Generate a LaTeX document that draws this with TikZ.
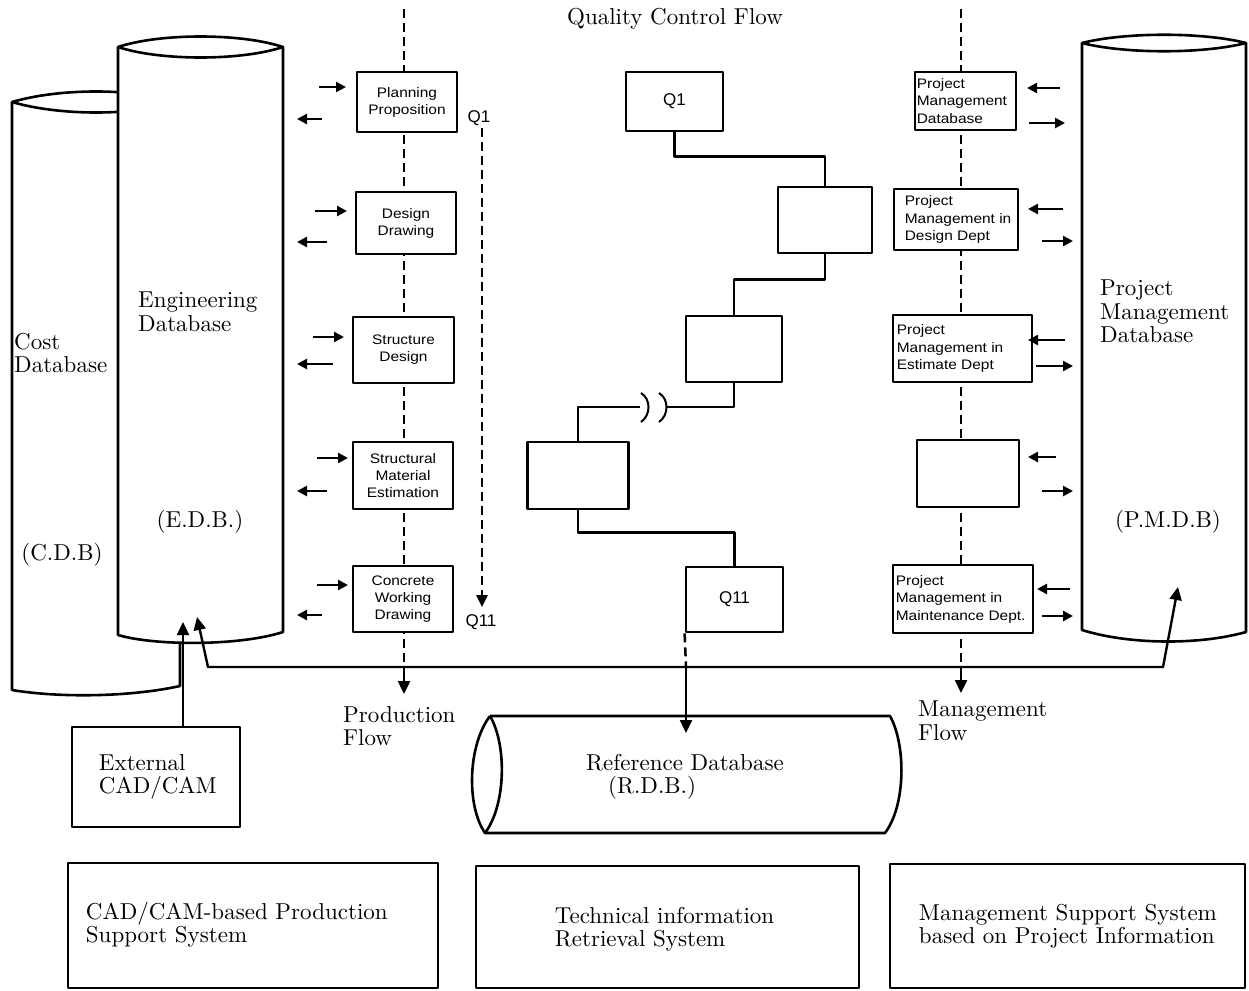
\documentclass[tikz,border=0pt]{standalone}
\usepackage{fontspec}
\setmainfont{lmroman10-regular}[Extension=.otf]
\newfontfamily\boxfont{Liberation Sans}[FakeStretch=1.12]
\newfontfamily\qfont{Liberation Sans}
\usetikzlibrary{arrows.meta}

\begin{document}
\begin{tikzpicture}[x=1pt,y=-1pt,line join=round,
  dbline/.style={line width=2.6pt},
  stepbox/.style={draw,line width=2.8pt,fill=white,inner sep=0pt,align=center,
    font={\boxfont\fontsize{13.8}{17}\selectfont}},
  blank/.style={draw,line width=2.8pt,fill=white,inner sep=0pt},
  qbox/.style={draw,line width=2.8pt,fill=white,inner sep=0pt,
    font={\qfont\fontsize{17}{20}\selectfont}},
  boxtext/.style={inner sep=0pt,align=left,anchor=west,
    font={\boxfont\fontsize{13.8}{17.5}\selectfont}},
  qlabel/.style={inner sep=0pt,font={\qfont\fontsize{17}{20}\selectfont}},
  serif/.style={inner sep=0pt,align=left,font={\fontsize{23}{23.5}\selectfont}},
  sysbox/.style={draw,line width=2.5pt,inner sep=0pt},
  conn/.style={line width=2.4pt},
  flow/.style={line width=2.5pt,dash pattern=on 9pt off 5pt},
  bigtip/.style={-{Triangle[length=13pt,width=12pt]}},
  small/.style={line width=2.6pt,-{Triangle[length=10pt,width=10pt]}}
]
\useasboundingbox (0,0) rectangle (1249,990);

% ---------- database cylinders ----------
% Cost database (behind)
\path[draw,dbline,fill=white] (12,102) .. controls (60,88) and (132,88) .. (180,102)
  -- (180,686) .. controls (130,697) and (60,698) .. (12,690) -- cycle;
\draw[dbline] (12,102) .. controls (60,116) and (132,116) .. (180,102);
% Engineering database
\path[draw,dbline,fill=white] (118,47) .. controls (160,33) and (241,33) .. (283,47)
  -- (283,632) .. controls (240,646) and (155,646) .. (118,635) -- cycle;
\draw[dbline] (118,47) .. controls (160,61) and (241,61) .. (283,47);
% Project management database
\path[draw,dbline,fill=white] (1082,43) .. controls (1125,32) and (1203,32) .. (1246,43)
  -- (1246,632) .. controls (1200,645) and (1130,645) .. (1082,630) -- cycle;
\draw[dbline] (1082,43) .. controls (1125,54) and (1203,54) .. (1246,43);
% Reference database (lying)
\draw[dbline] (490,716) -- (890,716) .. controls (906,745) and (906,805) .. (885,833)
  -- (485,833) .. controls (466,805) and (468,745) .. (490,716);
\draw[dbline] (490,716) .. controls (507,745) and (506,805) .. (485,833);

% ---------- database labels ----------
\node[serif,anchor=north west] (costlbl) at (14,333) {Cost\\Database};
\node[serif] (cdb) at (62,555) {(C.D.B)};
\node[serif,anchor=north west] (edblbl) at (138,292) {Engineering\\Database};
\node[serif] (edb) at (200,522) {(E.D.B.)};
\node[serif,anchor=north west] (pmdblbl) at (1100,280) {Project\\Management\\Database};
\node[serif] (pmdb) at (1168,522) {(P.M.D.B)};
\node[serif,anchor=north west] (rdblbl) at (586,754) {Reference Database\\\hspace*{22pt}(R.D.B.)};

% ---------- flow lines ----------
\node[serif] (qcf) at (675,19) {Quality Control Flow};
\coordinate (ptop) at (404,9);
\coordinate (pbus) at (404,667);
\coordinate (pend) at (404,694);
\coordinate (mtop) at (961,9);
\coordinate (mbus) at (961,667);
\coordinate (mend) at (961,693);
\draw[flow] (ptop) -- (pbus);
\draw[conn,bigtip] (pbus) -- (pend);
\draw[flow] (mtop) -- (mbus);
\draw[conn,bigtip] (mbus) -- (mend);
\node[serif,anchor=north west] (pflow) at (343,706) {Production\\Flow};
\node[serif,anchor=north west] (mflow) at (918,701) {Management\\Flow};

% ---------- production column ----------
\node[stepbox,minimum width=100pt,minimum height=60pt] (P1) at (407,102) {Planning\\Proposition};
\node[stepbox,minimum width=100pt,minimum height=62pt] (P2) at (406,223) {Design\\Drawing};
\node[stepbox,minimum width=101pt,minimum height=66pt] (P3) at (403.5,350) {Structure\\Design};
\node[stepbox,minimum width=100pt,minimum height=67pt] (P4) at (403,475.5) {Structural\\Material\\Estimation};
\node[stepbox,minimum width=100pt,minimum height=66pt] (P5) at (403,599) {Concrete\\Working\\Drawing};

\draw[small] (319,87) -- (346,87);   \draw[small] (322,119) -- (297,119);
\draw[small] (315,211) -- (347,211); \draw[small] (327,242) -- (297,242);
\draw[small] (313,337) -- (344,337); \draw[small] (333,364) -- (297,364);
\draw[small] (317,458) -- (348,458); \draw[small] (327,491) -- (297,491);
\draw[small] (317,585) -- (348,585); \draw[small] (322,615) -- (297,615);

% quality control span
\coordinate (qstart) at (482,128);
\coordinate (qend) at (482,607);
\draw[flow,-{Triangle[length=12pt,width=11pt]}] (qstart) -- (qend);
\node[qlabel] (q1lbl) at (479,118) {Q1};
\node[qlabel] (q11lbl) at (481,622) {Q11};

% ---------- quality control chain ----------
\node[qbox,minimum width=97pt,minimum height=59pt] (Q1) at (674.5,101.5) {Q1};
\node[blank,minimum width=94pt,minimum height=66pt] (B2) at (825,220) {};
\node[blank,minimum width=96pt,minimum height=66pt] (B3) at (734,349) {};
\node[blank,minimum width=101pt,minimum height=67pt] (B4) at (578,475.5) {};
\node[qbox,minimum width=97pt,minimum height=65pt] (Q11) at (734.5,599.5) {Q11};

\draw[conn] (Q1.south) -- ++(0,24) -| (B2.north);
\draw[conn] (B2.south) -- ++(0,25) -| (B3.north);
\coordinate (brkR) at (667,407);
\coordinate (brkL) at (640,407);
\draw[conn] (B3.south) |- (brkR);
\draw[conn] (brkL) -| (B4.north);
\draw[line width=2pt] (641,393) .. controls (651,399) and (651,415) .. (641,422);
\draw[line width=2pt] (659,393) .. controls (669,399) and (669,415) .. (659,422);
\draw[conn] (B4.south) -- ++(0,22) -| (Q11.north);

\coordinate (rbus) at (686,667);
\coordinate (rtip) at (686,733);
\draw[flow] (Q11.south west) -- (rbus);
\draw[conn,bigtip] (rbus) -- (rtip);

% ---------- management column ----------
\node[blank,minimum width=101pt,minimum height=58pt] (M1) at (965.5,101) {};
\node[boxtext] (M1t) at ([xshift=3pt]M1.west) {Project\\Management\\Database};
\node[blank,minimum width=124pt,minimum height=61pt] (M2) at (956,219.5) {};
\node[boxtext] (M2t) at ([xshift=12pt]M2.west) {Project\\Management in\\Design Dept};
\node[blank,minimum width=139pt,minimum height=67pt] (M3) at (962.5,348.5) {};
\node[boxtext] (M3t) at ([xshift=5pt]M3.west) {Project\\Management in\\Estimate Dept};
\node[blank,minimum width=102pt,minimum height=67pt] (M4) at (968,473.5) {};
\node[blank,minimum width=140pt,minimum height=68pt] (M5) at (963,599) {};
\node[boxtext] (M5t) at ([xshift=4pt]M5.west) {Project\\Management in\\Maintenance Dept.};

\draw[small] (1060,88) -- (1027,88);  \draw[small] (1029,123) -- (1065,123);
\draw[small] (1063,209) -- (1028,209); \draw[small] (1042,241) -- (1073,241);
\draw[small] (1065,340) -- (1028,340); \draw[small] (1036,366) -- (1073,366);
\draw[small] (1056,457) -- (1028,457); \draw[small] (1042,491) -- (1073,491);
\draw[small] (1070,589) -- (1037,589); \draw[small] (1042,616) -- (1073,616);

% ---------- data bus between the databases ----------
\coordinate (edbtip) at (197,617);
\coordinate (busL) at (208,667);
\coordinate (busR) at (1163,667);
\coordinate (pmdbtip) at (1178,587);
\draw[conn,{Triangle[length=13pt,width=12pt]}-{Triangle[length=13pt,width=12pt]}]
  (edbtip) -- (busL) -- (busR) -- (pmdbtip);

% ---------- external CAD/CAM ----------
\node[sysbox,minimum width=168pt,minimum height=100pt] (ext) at (156,777) {};
\node[serif,anchor=west] (extt) at ([xshift=28pt]ext.west) {External\\CAD/CAM};
\coordinate (exttip) at (183,622);
\draw[conn,bigtip] (ext.north -| exttip) -- (exttip);

% ---------- subsystems ----------
\node[sysbox,minimum width=370pt,minimum height=125pt] (S1) at (253,925.5) {};
\node[serif,anchor=west] (S1t) at ([xshift=19pt,yshift=1pt]S1.west) {CAD/CAM-based Production\\Support System};
\node[sysbox,minimum width=383pt,minimum height=122pt] (S2) at (667.5,927) {};
\node[serif,anchor=west] (S2t) at ([xshift=80pt,yshift=-2pt]S2.west) {Technical information\\Retrieval System};
\node[sysbox,minimum width=355pt,minimum height=124pt] (S3) at (1067.5,926) {};
\node[serif,anchor=west] (S3t) at ([xshift=30pt]S3.west) {Management Support System\\based on Project Information};
\end{tikzpicture}
\end{document}
